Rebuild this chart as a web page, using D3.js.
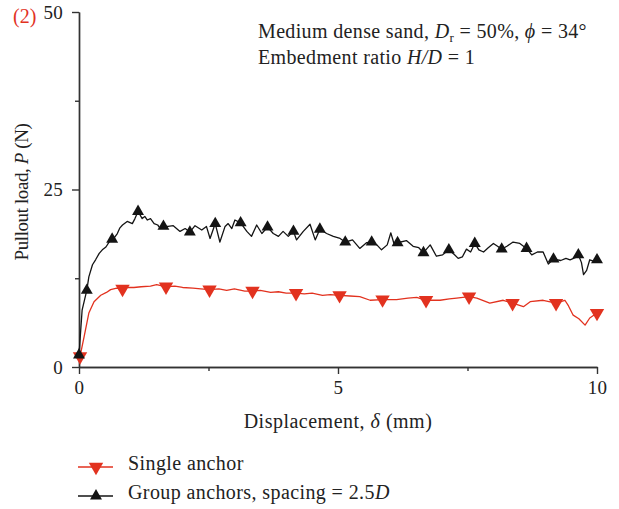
<!DOCTYPE html>
<html>
<head>
<meta charset="utf-8">
<script src="https://cdn.jsdelivr.net/npm/d3@7"></script>
<style>
  body { margin: 0; background: #fff; }
  text { font-family: "Liberation Serif", "DejaVu Serif", serif; fill: #222; }
</style>
</head>
<body>
<svg id="chart"></svg>
<script>
// group anchors, spacing = 2.5D  [displacement mm, load N]
const groupX = [0, 0.06, 0.15, 0.19, 0.26, 0.32, 0.39, 0.45, 0.52, 0.58, 0.64, 0.69, 0.74, 0.79, 0.84, 0.93, 1.03, 1.08, 1.14, 1.22,
  1.27, 1.32, 1.38, 1.45, 1.52, 1.56, 1.63, 1.72, 1.82, 1.95, 2.05, 2.14, 2.24, 2.37, 2.46, 2.53, 2.63, 2.72, 2.82, 2.88,
  2.95, 3.01, 3.12, 3.24, 3.33, 3.43, 3.53, 3.64, 3.75, 3.85, 3.94, 4.04, 4.14, 4.20, 4.33, 4.46, 4.56, 4.65, 4.78, 4.91,
  5.04, 5.14, 5.28, 5.42, 5.55, 5.65, 5.75, 5.84, 5.95, 6.02, 6.08, 6.15, 6.32, 6.45, 6.56, 6.65, 6.78, 6.90, 7.02, 7.14,
  7.25, 7.32, 7.40, 7.48, 7.56, 7.64, 7.72, 7.81, 7.90, 8.00, 8.08, 8.16, 8.26, 8.38, 8.51, 8.64, 8.74, 8.85, 8.96, 9.06,
  9.16, 9.30, 9.40, 9.48, 9.58, 9.64, 9.70, 9.74, 9.80, 9.86, 9.93, 10.0];
const groupY = [1.7, 8.0, 10.8, 12.7, 14.4, 15.1, 16.0, 16.5, 16.9, 17.6, 18.0, 18.3, 18.8, 19.6, 20.0, 20.5, 20.2, 20.9, 21.9, 20.9,
  21.2, 20.7, 20.9, 20.2, 20.0, 19.6, 19.8, 19.8, 19.9, 19.1, 19.5, 19.0, 19.9, 19.3, 19.8, 18.1, 20.2, 17.6, 19.8, 20.2,
  19.5, 20.7, 20.3, 19.1, 18.4, 20.0, 18.8, 19.7, 18.8, 18.4, 19.1, 18.4, 19.1, 17.9, 19.1, 20.1, 17.9, 19.4, 18.8, 18.4,
  18.1, 17.6, 17.9, 16.7, 17.5, 17.6, 17.2, 16.5, 17.2, 18.9, 17.4, 17.5, 17.8, 17.0, 16.8, 16.1, 17.2, 15.6, 15.8, 16.5,
  15.8, 15.3, 15.5, 16.6, 16.2, 17.4, 16.5, 16.2, 16.8, 17.4, 17.0, 16.6, 17.0, 17.6, 17.4, 16.7, 15.8, 16.2, 16.2, 14.5,
  15.2, 15.0, 15.3, 15.1, 15.4, 15.8, 14.7, 13.0, 13.6, 15.1, 14.9, 15.1];
const groupMarkX = [0, 0.15, 0.64, 1.14, 1.63, 2.14, 2.63, 3.12, 3.64, 4.14, 4.65, 5.14, 5.65, 6.15, 6.65, 7.14, 7.64, 8.16, 8.64, 9.16, 9.64, 10.0];

// single anchor
const singleX = [0.02, 0.10, 0.19, 0.29, 0.42, 0.53, 0.61, 0.73, 0.84, 0.95, 1.06, 1.20, 1.38, 1.50, 1.68, 1.85, 2.00, 2.20, 2.35, 2.52,
  2.70, 2.85, 3.00, 3.20, 3.35, 3.50, 3.70, 3.85, 4.00, 4.19, 4.35, 4.50, 4.70, 4.85, 5.03, 5.23, 5.42, 5.62, 5.86, 6.13,
  6.35, 6.52, 6.70, 6.97, 7.15, 7.29, 7.53, 7.68, 7.93, 8.19, 8.37, 8.58, 8.71, 8.96, 9.21, 9.38, 9.45, 9.54, 9.65, 9.77,
  9.86, 10.0];
const singleY = [1.5, 4.3, 7.6, 9.2, 10.1, 10.5, 10.9, 11.1, 11.0, 11.2, 11.2, 11.3, 11.4, 11.6, 11.3, 11.4, 11.2, 11.1, 11.0, 10.9,
  11.0, 10.8, 11.0, 10.7, 10.7, 10.8, 10.5, 10.6, 10.4, 10.4, 10.3, 10.4, 10.1, 10.2, 10.1, 10.0, 9.9, 9.4, 9.5, 9.5,
  9.7, 9.8, 9.4, 9.4, 9.6, 9.7, 9.9, 9.7, 9.0, 9.4, 9.0, 8.5, 9.2, 9.4, 9.0, 9.4, 8.6, 7.3, 6.8, 5.9,
  6.9, 7.6];
const singleMarkX = [0.02, 0.84, 1.68, 2.52, 3.35, 4.19, 5.03, 5.86, 6.70, 7.53, 8.37, 9.21, 10.0];

const xMajor = [0, 5, 10];
const xMinor = [2.5, 7.5];
const yMajor = [0, 25, 50];
const yMinor = [12.5, 37.5];

const RED = "#e2321f";
const BLACK = "#141414";

const width = 619, height = 509;
const svg = d3.select("#chart").attr("width", width).attr("height", height);

const x = d3.scaleLinear().domain([0, 10]).range([79, 597]);
const y = d3.scaleLinear().domain([0, 50]).range([367, 12]);

// axes
function styleAxis(g) {
  g.selectAll("path, line").attr("stroke", "#333").attr("stroke-width", 1.4);
  g.selectAll("text").attr("font-size", 19).attr("fill", "#222").attr("letter-spacing", 0.3)
    .style("font-family", '"Liberation Serif", serif');
}

svg.append("g").attr("transform", `translate(0,${y(0)})`)
  .call(d3.axisBottom(x).tickValues(xMajor).tickSize(7).tickSizeOuter(0).tickPadding(7))
  .call(styleAxis);
svg.append("g").attr("transform", `translate(0,${y(0)})`)
  .call(d3.axisBottom(x).tickValues(xMinor).tickSize(4).tickSizeOuter(0).tickFormat(""))
  .call(styleAxis);

svg.append("g").attr("transform", `translate(${x(0)},0)`)
  .call(d3.axisLeft(y).tickValues(yMajor).tickSize(7).tickSizeOuter(0).tickPadding(9))
  .call(styleAxis);
svg.append("g").attr("transform", `translate(${x(0)},0)`)
  .call(d3.axisLeft(y).tickValues(yMinor).tickSize(4).tickSizeOuter(0).tickFormat(""))
  .call(styleAxis);

// curves
const line = d3.line().x(d => x(d[0])).y(d => y(d[1]));

function drawSeries(xs, ys, marks, color, down) {
  const pts = xs.map((v, i) => [v, ys[i]]);
  svg.append("path").datum(pts)
    .attr("fill", "none").attr("stroke", color).attr("stroke-width", 1.3)
    .attr("stroke-linejoin", "round").attr("d", line);
  const mp = pts.filter(p => marks.includes(p[0]));
  svg.selectAll(null).data(mp).enter().append("path")
    .attr("d", d3.symbol(d3.symbolTriangle, down ? 90 : 62))
    .attr("transform", d => `translate(${x(d[0])},${y(d[1])}) rotate(${down ? 180 : 0})`)
    .attr("fill", color);
}

drawSeries(singleX, singleY, singleMarkX, RED, true);
drawSeries(groupX, groupY, groupMarkX, BLACK, false);

// axis titles
svg.append("text").attr("x", 338).attr("y", 428).attr("text-anchor", "middle")
  .attr("font-size", 20).attr("letter-spacing", 0.5)
  .call(t => {
    t.append("tspan").text("Displacement, ");
    t.append("tspan").attr("font-style", "italic").text("δ");
    t.append("tspan").text(" (mm)");
  });

svg.append("text").attr("transform", "translate(28,192) rotate(-90)").attr("text-anchor", "middle")
  .attr("font-size", 19).attr("letter-spacing", -0.4)
  .call(t => {
    t.append("tspan").text("Pullout load, ");
    t.append("tspan").attr("font-style", "italic").text("P");
    t.append("tspan").text(" (N)");
  });

svg.append("text").attr("x", 13).attr("y", 23).attr("font-size", 20).style("fill", RED).text("(2)");

// annotation
svg.append("text").attr("x", 258).attr("y", 38).attr("font-size", 20).attr("letter-spacing", 0.35)
  .call(t => {
    t.append("tspan").text("Medium dense sand, ");
    t.append("tspan").attr("font-style", "italic").text("D");
    t.append("tspan").attr("font-size", 13).attr("dy", 4).text("r");
    t.append("tspan").attr("dy", -4).text(" = 50%, ");
    t.append("tspan").attr("font-style", "italic").text("ϕ");
    t.append("tspan").text(" = 34°");
  });
svg.append("text").attr("x", 258).attr("y", 64).attr("font-size", 20).attr("letter-spacing", 0.35)
  .call(t => {
    t.append("tspan").text("Embedment ratio ");
    t.append("tspan").attr("font-style", "italic").text("H/D");
    t.append("tspan").text(" = 1");
  });

// legend
const legend = [
  { label: ["Single anchor"], color: RED, down: true, ly: 467 },
  { label: ["Group anchors, spacing = 2.5", "D"], color: BLACK, down: false, ly: 496 }
];
legend.forEach(l => {
  svg.append("line").attr("x1", 78).attr("x2", 113).attr("y1", l.ly).attr("y2", l.ly)
    .attr("stroke", l.color).attr("stroke-width", 1.3);
  svg.append("path").attr("d", d3.symbol(d3.symbolTriangle, l.down ? 90 : 62))
    .attr("transform", `translate(96,${l.ly}) rotate(${l.down ? 180 : 0})`).attr("fill", l.color);
  const t = svg.append("text").attr("x", 128).attr("y", l.ly + 3).attr("font-size", 20).attr("letter-spacing", 0.4);
  t.append("tspan").text(l.label[0]);
  if (l.label[1]) t.append("tspan").attr("font-style", "italic").text(l.label[1]);
});
</script>
</body>
</html>
